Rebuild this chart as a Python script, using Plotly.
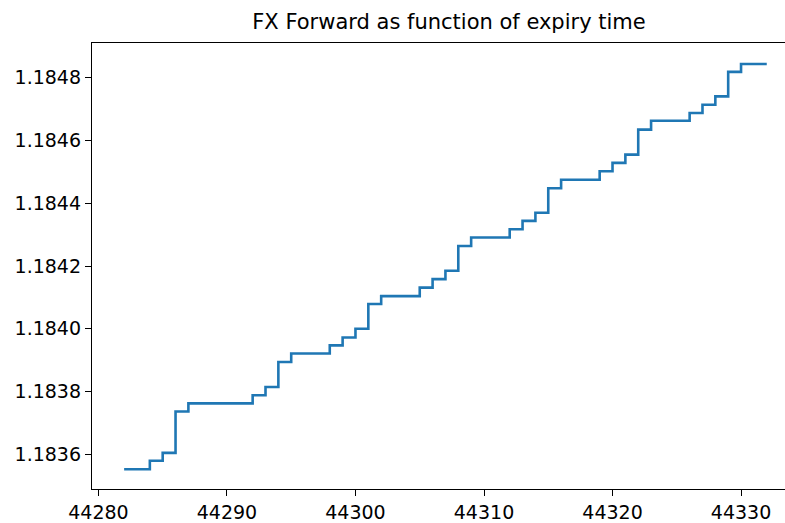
import plotly.graph_objects as go

# Expiry time (Excel serial days)
days = list(range(44282, 44333))

# FX forward values, one per day
fwd = [
    1.183552, 1.183552, 1.183579, 1.183604, 1.183736, 1.183762, 1.183762, 1.183762,
    1.183762, 1.183762, 1.183788, 1.183814, 1.183894, 1.183921, 1.183921, 1.183921,
    1.183947, 1.183972, 1.184000, 1.184079, 1.184104, 1.184104, 1.184104, 1.184131,
    1.184158, 1.184185, 1.184264, 1.184291, 1.184291, 1.184291, 1.184317, 1.184344,
    1.184370, 1.184448, 1.184475, 1.184475, 1.184475, 1.184502, 1.184529, 1.184555,
    1.184635, 1.184663, 1.184663, 1.184663, 1.184688, 1.184714, 1.184741, 1.184819,
    1.184844, 1.184844, 1.184844,
]

x_ticks = [44280, 44290, 44300, 44310, 44320, 44330]
y_ticks = [1.1836, 1.1838, 1.1840, 1.1842, 1.1844, 1.1846, 1.1848]
y_tick_text = ["1.1836", "1.1838", "1.1840", "1.1842", "1.1844", "1.1846", "1.1848"]

fig = go.Figure()
fig.add_trace(go.Scatter(
    x=days, y=fwd, mode="lines",
    line=dict(color="#1f77b4", width=2.6, shape="hv"),
    showlegend=False,
))

font = dict(family="DejaVu Sans", size=19, color="black")

fig.update_layout(
    width=785, height=523,
    margin=dict(l=92, r=0, t=43, b=32),
    paper_bgcolor="white", plot_bgcolor="white",
    font=font,
    title=dict(
        text="FX Forward as function of expiry time",
        x=449 / 785, xref="container", xanchor="center",
        y=1 - 22 / 523, yref="container", yanchor="middle",
        font=dict(family="DejaVu Sans", size=21, color="black"),
    ),
)

fig.update_xaxes(
    range=[44279.5, 44333.42],
    tickmode="array", tickvals=x_ticks, ticktext=[str(v) for v in x_ticks],
    showgrid=False, zeroline=False,
    showline=True, linecolor="black", linewidth=1.3, mirror=True,
    ticks="outside", ticklen=6, tickwidth=1.3, tickcolor="black",
    tickfont=font,
)
fig.update_yaxes(
    range=[1.1834889, 1.1849111],
    tickmode="array", tickvals=y_ticks, ticktext=y_tick_text,
    showgrid=False, zeroline=False,
    showline=True, linecolor="black", linewidth=1.3, mirror=False,
    ticks="outside", ticklen=6, tickwidth=1.3, tickcolor="black",
    tickfont=font,
)

fig.write_html("out.html")
